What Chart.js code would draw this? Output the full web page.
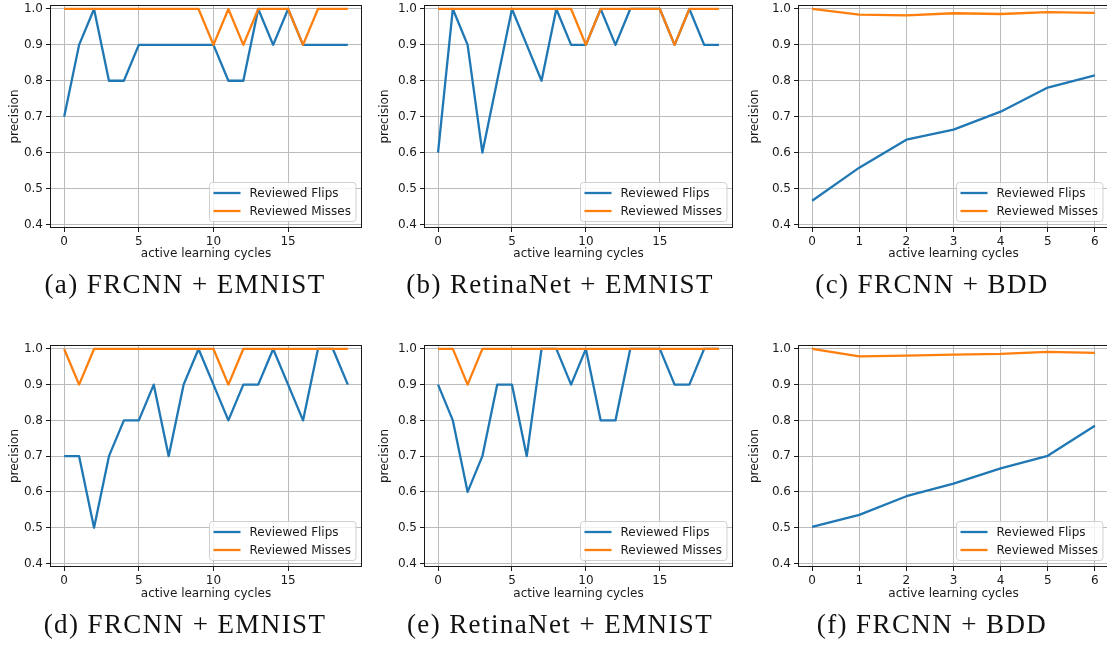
<!DOCTYPE html>
<html>
<head>
<meta charset="utf-8">
<script src="https://cdn.jsdelivr.net/npm/chart.js@4.4.1/dist/chart.umd.min.js"></script>
<style>
  html, body { margin: 0; padding: 0; background: #fff; overflow: hidden; width: 1107px; height: 646px; }
  canvas.panel { position: absolute; }
  .caption {
    position: absolute;
    font-family: "Liberation Serif", "DejaVu Serif", serif;
    font-size: 27px;
    line-height: 27px;
    letter-spacing: 1.4px;
    color: #111;
    white-space: nowrap;
    transform: translateX(-50%);
  }
</style>
</head>
<body>
<script>
// ---- data -------------------------------------------------------------
const cyclesEmnist = [0, 1, 2, 3, 4, 5, 6, 7, 8, 9, 10, 11, 12, 13, 14, 15, 16, 17, 18, 19];
const cyclesBdd = [0, 1, 2, 3, 4, 5, 6];
const xTicksEmnist = [0, 5, 10, 15];
const xTicksBdd = [0, 1, 2, 3, 4, 5, 6];
const precisionTicks = [0.4, 0.5, 0.6, 0.7, 0.8, 0.9, 1.0];
const seriesLabels = ['Reviewed Flips', 'Reviewed Misses'];

// (a) FRCNN + EMNIST
const flipsA  = [0.7, 0.9, 1.0, 0.8, 0.8, 0.9, 0.9, 0.9, 0.9, 0.9, 0.9, 0.8, 0.8, 1.0, 0.9, 1.0, 0.9, 0.9, 0.9, 0.9];
const missesA = [1.0, 1.0, 1.0, 1.0, 1.0, 1.0, 1.0, 1.0, 1.0, 1.0, 0.9, 1.0, 0.9, 1.0, 1.0, 1.0, 0.9, 1.0, 1.0, 1.0];
// (b) RetinaNet + EMNIST
const flipsB  = [0.6, 1.0, 0.9, 0.6, 0.8, 1.0, 0.9, 0.8, 1.0, 0.9, 0.9, 1.0, 0.9, 1.0, 1.0, 1.0, 0.9, 1.0, 0.9, 0.9];
const missesB = [1.0, 1.0, 1.0, 1.0, 1.0, 1.0, 1.0, 1.0, 1.0, 1.0, 0.9, 1.0, 1.0, 1.0, 1.0, 1.0, 0.9, 1.0, 1.0, 1.0];
// (c) FRCNN + BDD
const flipsC  = [0.466, 0.558, 0.636, 0.664, 0.714, 0.781, 0.815];
const missesC = [1.0, 0.984, 0.982, 0.988, 0.986, 0.991, 0.989];
// (d) FRCNN + EMNIST
const flipsD  = [0.7, 0.7, 0.5, 0.7, 0.8, 0.8, 0.9, 0.7, 0.9, 1.0, 0.9, 0.8, 0.9, 0.9, 1.0, 0.9, 0.8, 1.0, 1.0, 0.9];
const missesD = [1.0, 0.9, 1.0, 1.0, 1.0, 1.0, 1.0, 1.0, 1.0, 1.0, 1.0, 0.9, 1.0, 1.0, 1.0, 1.0, 1.0, 1.0, 1.0, 1.0];
// (e) RetinaNet + EMNIST
const flipsE  = [0.9, 0.8, 0.6, 0.7, 0.9, 0.9, 0.7, 1.0, 1.0, 0.9, 1.0, 0.8, 0.8, 1.0, 1.0, 1.0, 0.9, 0.9, 1.0, 1.0];
const missesE = [1.0, 1.0, 0.9, 1.0, 1.0, 1.0, 1.0, 1.0, 1.0, 1.0, 1.0, 1.0, 1.0, 1.0, 1.0, 1.0, 1.0, 1.0, 1.0, 1.0];
// (f) FRCNN + BDD
const flipsF  = [0.502, 0.536, 0.588, 0.623, 0.666, 0.701, 0.785];
const missesF = [1.0, 0.979, 0.981, 0.984, 0.986, 0.992, 0.989];

const captions = [
  '(a) FRCNN + EMNIST', '(b) RetinaNet + EMNIST', '(c) FRCNN + BDD',
  '(d) FRCNN + EMNIST', '(e) RetinaNet + EMNIST', '(f) FRCNN + BDD'
];

// ---- layout -----------------------------------------------------------
const CANVAS_W = 370, CANVAS_H = 270;
const columns = [
  { left: 0,   plotLeft: 50,  plotRight: 362,  captionX: 185 },
  { left: 370, plotLeft: 424, plotRight: 733,  captionX: 560 },
  { left: 740, plotLeft: 798, plotRight: 1109, captionX: 932 }
];
const rows = [
  { top: 0,   plotTop: 5,   plotBottom: 228, captionTop: 271 },
  { top: 340, plotTop: 345, plotBottom: 567, captionTop: 611 }
];

const panels = [
  { col: 0, row: 0, cycles: cyclesEmnist, xTicks: xTicksEmnist, flips: flipsA, misses: missesA, caption: captions[0] },
  { col: 1, row: 0, cycles: cyclesEmnist, xTicks: xTicksEmnist, flips: flipsB, misses: missesB, caption: captions[1] },
  { col: 2, row: 0, cycles: cyclesBdd,    xTicks: xTicksBdd,    flips: flipsC, misses: missesC, caption: captions[2] },
  { col: 0, row: 1, cycles: cyclesEmnist, xTicks: xTicksEmnist, flips: flipsD, misses: missesD, caption: captions[3] },
  { col: 1, row: 1, cycles: cyclesEmnist, xTicks: xTicksEmnist, flips: flipsE, misses: missesE, caption: captions[4] },
  { col: 2, row: 1, cycles: cyclesBdd,    xTicks: xTicksBdd,    flips: flipsF, misses: missesF, caption: captions[5] }
];

const BLUE = '#1f77b4', ORANGE = '#ff7f0e', INK = '#1a1a1a', GRID = '#bcbcbc';
const SANS = '"DejaVu Sans", sans-serif';

// Axes frame (all four spines) and a lower-right legend box.
const frameAndLegend = {
  id: 'frameAndLegend',
  afterDraw(chart) {
    const { ctx, chartArea: a } = chart;
    ctx.save();
    // spines
    ctx.strokeStyle = INK;
    ctx.lineWidth = 1;
    const l = Math.round(a.left) + 0.5, t = Math.round(a.top) + 0.5;
    const r = Math.round(a.right) - 0.5, b = Math.round(a.bottom) - 0.5;
    ctx.strokeRect(l, t, r - l, b - t);

    // legend
    ctx.font = '12px ' + SANS;
    const ds = chart.data.datasets;
    const textW = Math.max(...ds.map(d => ctx.measureText(d.label).width));
    const padL = 4, lineLen = 27, gap = 9, padR = 5, rowH = 18, padT = 10.5;
    const w = padL + lineLen + gap + textW + padR, h = 39;
    const x = Math.round(a.right - 7 - w) + 0.5, y = Math.round(a.bottom - 7 - h) + 0.5;
    const rad = 3;
    ctx.beginPath();
    ctx.moveTo(x + rad, y);
    ctx.lineTo(x + w - rad, y);
    ctx.arcTo(x + w, y, x + w, y + rad, rad);
    ctx.lineTo(x + w, y + h - rad);
    ctx.arcTo(x + w, y + h, x + w - rad, y + h, rad);
    ctx.lineTo(x + rad, y + h);
    ctx.arcTo(x, y + h, x, y + h - rad, rad);
    ctx.lineTo(x, y + rad);
    ctx.arcTo(x, y, x + rad, y, rad);
    ctx.closePath();
    ctx.fillStyle = 'rgba(255,255,255,0.8)';
    ctx.fill();
    ctx.strokeStyle = '#d0d0d0';
    ctx.stroke();

    ds.forEach((d, i) => {
      const cy = y + padT + i * rowH;
      ctx.beginPath();
      ctx.moveTo(x + padL, cy);
      ctx.lineTo(x + padL + lineLen, cy);
      ctx.strokeStyle = d.borderColor;
      ctx.lineWidth = 2.3;
      ctx.stroke();
      ctx.fillStyle = INK;
      ctx.textBaseline = 'middle';
      ctx.textAlign = 'left';
      ctx.fillText(d.label, x + padL + lineLen + gap, cy + 1);
    });
    ctx.restore();
  }
};

panels.forEach(p => {
  const col = columns[p.col], row = rows[p.row];
  const canvas = document.createElement('canvas');
  canvas.className = 'panel';
  canvas.width = CANVAS_W;
  canvas.height = CANVAS_H;
  canvas.style.left = col.left + 'px';
  canvas.style.top = row.top + 'px';
  canvas.style.width = CANVAS_W + 'px';
  canvas.style.height = CANVAS_H + 'px';
  document.body.appendChild(canvas);

  const first = p.cycles[0], last = p.cycles[p.cycles.length - 1];
  const margin = (last - first) * 0.05;

  new Chart(canvas, {
    type: 'line',
    data: {
      datasets: [
        { label: seriesLabels[0], data: p.cycles.map((c, i) => ({ x: c, y: p.flips[i] })),
          borderColor: BLUE, backgroundColor: BLUE, order: 1 },
        { label: seriesLabels[1], data: p.cycles.map((c, i) => ({ x: c, y: p.misses[i] })),
          borderColor: ORANGE, backgroundColor: ORANGE, order: 0 }
      ]
    },
    options: {
      responsive: false,
      animation: false,
      devicePixelRatio: 1,
      layout: { padding: { left: 0, top: row.plotTop - row.top, right: col.left + CANVAS_W - col.plotRight, bottom: 0 } },
      elements: {
        point: { radius: 0, hoverRadius: 0 },
        line: { tension: 0, borderWidth: 2.3, borderJoinStyle: 'round', fill: false }
      },
      plugins: { legend: { display: false }, tooltip: { enabled: false } },
      scales: {
        x: {
          type: 'linear',
          min: first - margin,
          max: last + margin,
          afterBuildTicks: s => { s.ticks = p.xTicks.map(v => ({ value: v })); },
          afterFit: s => { s.height = row.top + CANVAS_H - row.plotBottom; s.paddingLeft = 0; s.paddingRight = 0; },
          border: { display: false },
          grid: { color: GRID, lineWidth: 1, drawTicks: true, tickLength: 4, tickColor: INK },
          ticks: { autoSkip: false, maxRotation: 0, padding: 3, color: INK, font: { family: SANS, size: 12 },
                   callback: v => String(v) },
          title: { display: true, text: 'active learning cycles', color: INK,
                   font: { family: SANS, size: 12 }, padding: { top: 0, bottom: 8.8 } }
        },
        y: {
          type: 'linear',
          min: 0.39,
          max: 1.011,
          afterBuildTicks: s => { s.ticks = precisionTicks.map(v => ({ value: v })); },
          afterFit: s => { s.width = col.plotLeft - col.left; s.paddingTop = 0; s.paddingBottom = 0; },
          border: { display: false },
          grid: { color: GRID, lineWidth: 1, drawTicks: true, tickLength: 4, tickColor: INK },
          ticks: { autoSkip: false, padding: 3, color: INK, font: { family: SANS, size: 12 },
                   callback: v => Number(v).toFixed(1) },
          title: { display: true, text: 'precision', color: INK,
                   font: { family: SANS, size: 12 }, padding: { top: 7.8, bottom: 0 } }
        }
      }
    },
    plugins: [frameAndLegend]
  });

  const cap = document.createElement('div');
  cap.className = 'caption';
  cap.textContent = p.caption;
  cap.style.left = col.captionX + 'px';
  cap.style.top = row.captionTop + 'px';
  document.body.appendChild(cap);
});
</script>
</body>
</html>
